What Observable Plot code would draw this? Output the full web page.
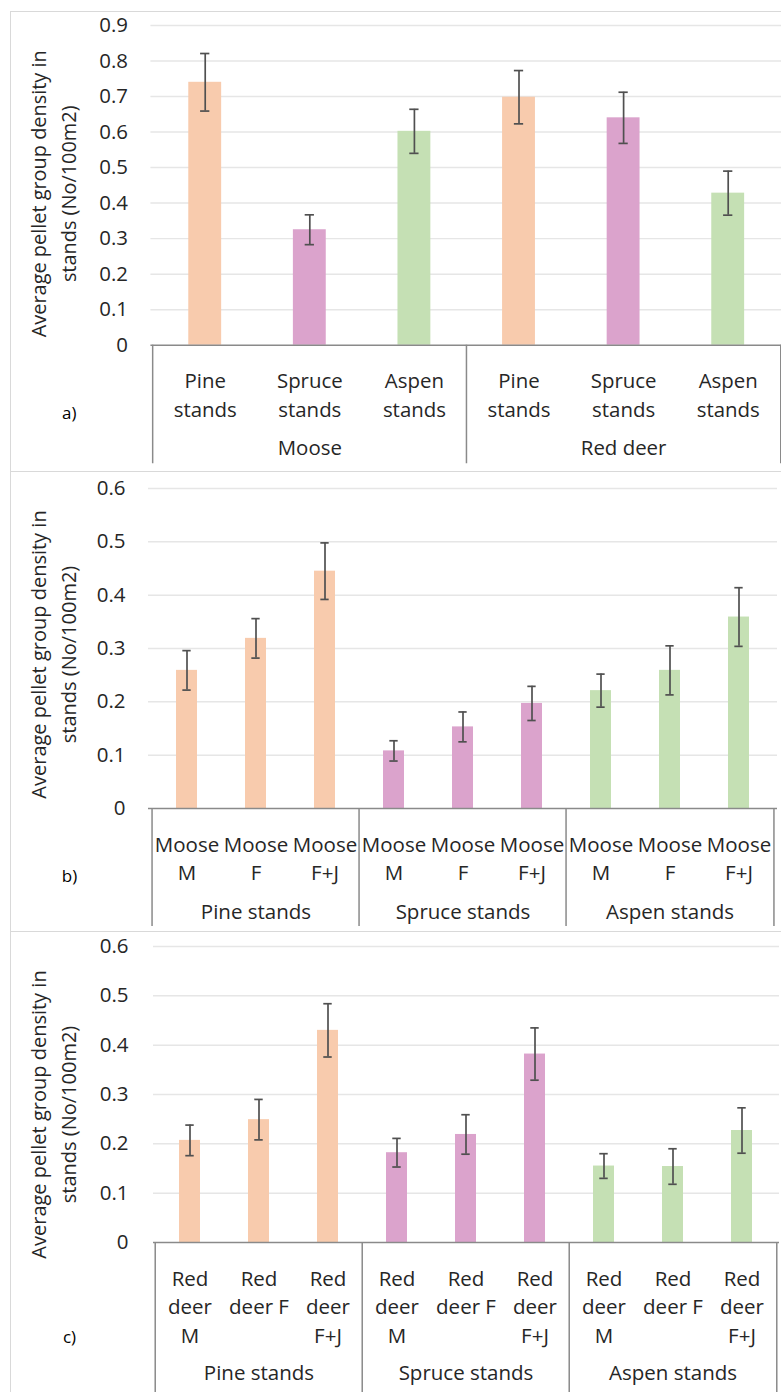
<!DOCTYPE html>
<html><head><meta charset="utf-8">
<script src="https://cdn.jsdelivr.net/npm/d3@7"></script>
<script src="https://cdn.jsdelivr.net/npm/@observablehq/plot@0.6"></script>
<style>
html,body{margin:0;padding:0;background:#fff;overflow:hidden}
#root{position:relative;width:781px;height:1392px;overflow:hidden;font-family:"Open Sans",sans-serif}
.box{position:absolute;left:10px;width:820px;border:1.5px solid #d9d9d9;box-sizing:border-box}
.panel{position:absolute;left:0}
</style></head><body><div id="root"></div>
<script>
// ---------- shared ----------
const standTypes = ["Pine stands", "Spruce stands", "Aspen stands"];
const standColors = ["#F8CBAD", "#DBA3CC", "#C5E0B4"];
const yTitle = "Average pellet group density in\nstands (No/100m2)";

// ---------- panel a ----------
const speciesA = ["Moose", "Red deer"];
const tickLabelsA = ["Pine\nstands", "Spruce\nstands", "Aspen\nstands"];
const mooseMeanA = [0.740, 0.325, 0.602];
const mooseErrA = [0.081, 0.042, 0.062];
const redDeerMeanA = [0.698, 0.640, 0.428];
const redDeerErrA = [0.075, 0.072, 0.062];
const yTicksA = [0, 0.1, 0.2, 0.3, 0.4, 0.5, 0.6, 0.7, 0.8, 0.9];

// ---------- panel b ----------
const classesB = ["Moose M", "Moose F", "Moose F+J"];
const tickLabelsB = ["Moose\nM", "Moose\nF", "Moose\nF+J"];
const pineMeanB = [0.259, 0.319, 0.445];
const pineErrB = [0.037, 0.037, 0.053];
const spruceMeanB = [0.108, 0.153, 0.197];
const spruceErrB = [0.019, 0.028, 0.032];
const aspenMeanB = [0.221, 0.259, 0.359];
const aspenErrB = [0.031, 0.046, 0.055];
const yTicksB = [0, 0.1, 0.2, 0.3, 0.4, 0.5, 0.6];

// ---------- panel c ----------
const classesC = ["Red deer M", "Red deer F", "Red deer F+J"];
const tickLabelsC = ["Red\ndeer\nM", "Red\ndeer F", "Red\ndeer\nF+J"];
const pineMeanC = [0.207, 0.249, 0.430];
const pineErrC = [0.031, 0.041, 0.054];
const spruceMeanC = [0.182, 0.219, 0.382];
const spruceErrC = [0.029, 0.040, 0.053];
const aspenMeanC = [0.155, 0.154, 0.227];
const aspenErrC = [0.025, 0.036, 0.046];
const yTicksC = [0, 0.1, 0.2, 0.3, 0.4, 0.5, 0.6];

// ---------- build rows ----------
function rowsFor(groups, subs, labels, means, errs, colorOf) {
  const out = [];
  groups.forEach((g, gi) => subs.forEach((s, si) => out.push({
    key: g + "|" + s, group: g, sub: s, label: labels[si],
    mean: means[gi][si], err: errs[gi][si], color: colorOf(gi, si)
  })));
  return out;
}
const rowsA = rowsFor(speciesA, standTypes, tickLabelsA,
  [mooseMeanA, redDeerMeanA], [mooseErrA, redDeerErrA], (g, s) => standColors[s]);
const rowsB = rowsFor(standTypes, classesB, tickLabelsB,
  [pineMeanB, spruceMeanB, aspenMeanB], [pineErrB, spruceErrB, aspenErrB], (g, s) => standColors[g]);
const rowsC = rowsFor(standTypes, classesC, tickLabelsC,
  [pineMeanC, spruceMeanC, aspenMeanC], [pineErrC, spruceErrC, aspenErrC], (g, s) => standColors[g]);

const TXT = "#262626";
const FS = 20.5;
function panel(rows, groups, yTicks, cfg) {
  const keys = rows.map(d => d.key);
  const xs = Plot.scale({x: {type: "band", domain: keys, range: [cfg.ml, cfg.width - cfg.mr], paddingInner: 0.69, paddingOuter: 0.345}});
  const step = xs.step ?? (cfg.width - cfg.mr - cfg.ml) / keys.length;
  const bw = xs.bandwidth ?? step * 0.31;
  const capInset = Math.max(0, (bw - 9) / 2);
  const firstKeys = groups.map(g => rows.find(r => r.group === g).key);
  const midKeys = groups.map(g => {
    const rs = rows.filter(r => r.group === g);
    return {key: rs[Math.floor(rs.length / 2)].key, name: g};
  });
  const lastKey = [keys[keys.length - 1]];
  return Plot.plot({
    width: cfg.width, height: cfg.height,
    marginLeft: cfg.ml, marginRight: cfg.mr, marginTop: cfg.mt, marginBottom: cfg.mb,
    x: {type: "band", domain: keys, paddingInner: 0.69, paddingOuter: 0.345, axis: null},
    y: {domain: [yTicks[0], yTicks[yTicks.length - 1]], axis: null},
    color: {type: "identity"},
    style: {fontFamily: '"Open Sans", sans-serif', background: "transparent", overflow: "visible", color: TXT},
    marks: [
      Plot.ruleY(yTicks.slice(1), {stroke: "#e6e6e6", strokeWidth: 1.5}),
      Plot.barY(rows, {x: "key", y: "mean", fill: "color"}),
      Plot.ruleX(rows, {x: "key", y1: d => d.mean - d.err, y2: d => d.mean + d.err, stroke: "#505050", strokeWidth: 1.7}),
      Plot.tickY(rows, {x: "key", y: d => d.mean - d.err, stroke: "#505050", strokeWidth: 1.7, insetLeft: capInset, insetRight: capInset}),
      Plot.tickY(rows, {x: "key", y: d => d.mean + d.err, stroke: "#505050", strokeWidth: 1.7, insetLeft: capInset, insetRight: capInset}),
      Plot.ruleY([0], {stroke: "#8a8a8a", strokeWidth: 1.5}),
      Plot.ruleX(firstKeys, {x: d => d, y1: 0, y2: 0, insetBottom: -cfg.sepLen, dx: -step / 2, stroke: "#8a8a8a", strokeWidth: 1.5}),
      Plot.ruleX(lastKey, {x: d => d, y1: 0, y2: 0, insetBottom: -cfg.sepLen, dx: step / 2, stroke: "#8a8a8a", strokeWidth: 1.5}),
      Plot.text(yTicks, {y: d => d, text: d => String(d), frameAnchor: "left", textAnchor: "end", dx: cfg.ytdx, fontSize: FS, fill: TXT}),
      Plot.text(rows, {x: "key", y: 0, text: "label", lineAnchor: "top", dy: 23, lineHeight: 1.39, fontSize: FS, fill: TXT}),
      Plot.text(midKeys, {x: "key", y: 0, text: "name", lineAnchor: "middle", dy: cfg.groupDy, fontSize: FS, fill: TXT}),
      Plot.text([yTitle], {frameAnchor: "top-left", text: d => d, rotate: -90, lineAnchor: "middle", textAnchor: "middle", lineHeight: 1.5, dx: 51 - cfg.ml, dy: 183 - cfg.mt, fontSize: 20, fill: TXT}),
      Plot.text([cfg.tag], {frameAnchor: "top-left", text: d => d, textAnchor: "middle", lineAnchor: "middle", dx: 69 - cfg.ml, dy: cfg.tagY - cfg.mt, fontSize: 17, fill: "#000"})
    ]
  });
}

const root = document.getElementById("root");
function addBox(top, h) {
  const b = document.createElement("div");
  b.className = "box"; b.style.top = top + "px"; b.style.height = h + "px";
  root.appendChild(b);
}
addBox(11, 461); addBox(471, 461); addBox(931, 480);

function addPanel(svg, top) {
  const d = document.createElement("div");
  d.className = "panel"; d.style.top = top + "px";
  d.appendChild(svg); root.appendChild(d);
}
addPanel(panel(rowsA, speciesA, yTicksA, {width: 784, height: 460, ml: 151, mr: 0, mt: 14, mb: 125, ytdx: -23, groupDy: 104, sepLen: 119, tag: "a)", tagY: 404}), 11);
addPanel(panel(rowsB, standTypes, yTicksB, {width: 781, height: 460, ml: 148, mr: 4, mt: 17, mb: 123, ytdx: -23, groupDy: 104, sepLen: 118, tag: "b)", tagY: 405}), 471);
addPanel(panel(rowsC, standTypes, yTicksC, {width: 781, height: 461, ml: 153, mr: 2, mt: 15, mb: 150, ytdx: -25, groupDy: 131, sepLen: 160, tag: "c)", tagY: 406}), 931);
</script></body></html>
